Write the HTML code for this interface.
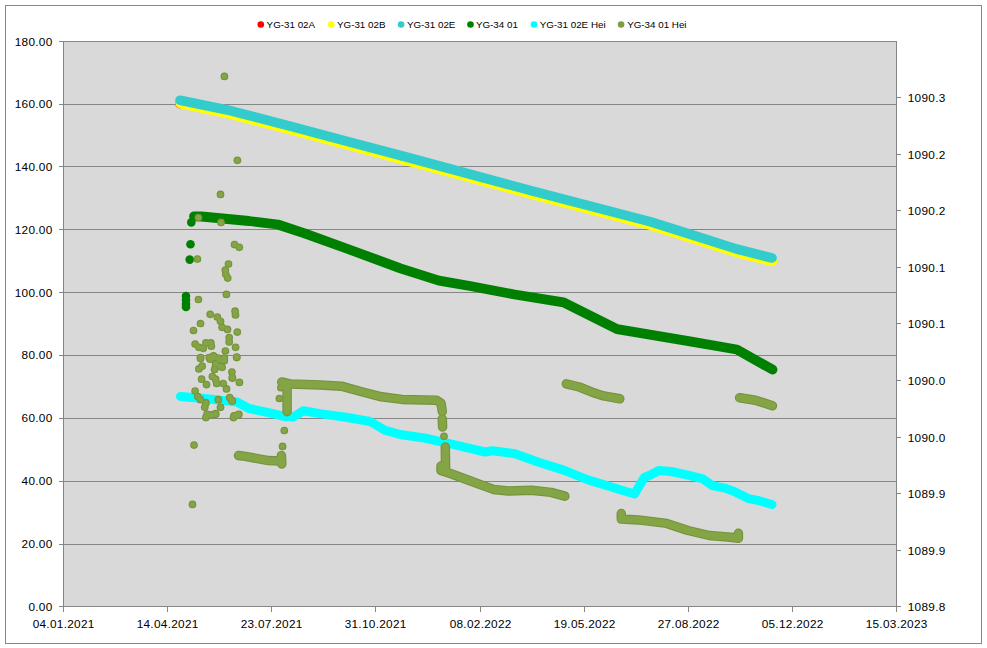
<!DOCTYPE html><html><head><meta charset="utf-8"><title>Chart</title><style>html,body{margin:0;padding:0;background:#fff;}svg{display:block;}text{font-family:"Liberation Sans",Arial,sans-serif;fill:#000;}</style></head><body>
<svg width="987" height="648" viewBox="0 0 987 648">
<rect x="0" y="0" width="987" height="648" fill="#fff"/>
<rect x="5.5" y="5.5" width="976" height="638" fill="none" stroke="#868686" stroke-width="1"/>
<rect x="63" y="41" width="833" height="565" fill="#D9D9D9"/>
<rect x="63" y="41" width="834" height="1" fill="#868686"/>
<rect x="63" y="104" width="834" height="1" fill="#868686"/>
<rect x="63" y="166" width="834" height="1" fill="#868686"/>
<rect x="63" y="229" width="834" height="1" fill="#868686"/>
<rect x="63" y="292" width="834" height="1" fill="#868686"/>
<rect x="63" y="355" width="834" height="1" fill="#868686"/>
<rect x="63" y="418" width="834" height="1" fill="#868686"/>
<rect x="63" y="481" width="834" height="1" fill="#868686"/>
<rect x="63" y="544" width="834" height="1" fill="#868686"/>
<rect x="63" y="606" width="834" height="1" fill="#868686"/>
<rect x="63" y="41" width="1" height="566" fill="#868686"/>
<rect x="896" y="41" width="1" height="566" fill="#868686"/>
<rect x="59" y="41" width="4" height="1" fill="#868686"/>
<rect x="59" y="104" width="4" height="1" fill="#868686"/>
<rect x="59" y="166" width="4" height="1" fill="#868686"/>
<rect x="59" y="229" width="4" height="1" fill="#868686"/>
<rect x="59" y="292" width="4" height="1" fill="#868686"/>
<rect x="59" y="355" width="4" height="1" fill="#868686"/>
<rect x="59" y="418" width="4" height="1" fill="#868686"/>
<rect x="59" y="481" width="4" height="1" fill="#868686"/>
<rect x="59" y="544" width="4" height="1" fill="#868686"/>
<rect x="59" y="606" width="4" height="1" fill="#868686"/>
<rect x="896" y="606" width="5" height="1" fill="#868686"/>
<rect x="896" y="550" width="5" height="1" fill="#868686"/>
<rect x="896" y="493" width="5" height="1" fill="#868686"/>
<rect x="896" y="437" width="5" height="1" fill="#868686"/>
<rect x="896" y="380" width="5" height="1" fill="#868686"/>
<rect x="896" y="323" width="5" height="1" fill="#868686"/>
<rect x="896" y="267" width="5" height="1" fill="#868686"/>
<rect x="896" y="210" width="5" height="1" fill="#868686"/>
<rect x="896" y="154" width="5" height="1" fill="#868686"/>
<rect x="896" y="97" width="5" height="1" fill="#868686"/>
<rect x="63" y="606" width="1" height="6" fill="#868686"/>
<rect x="167" y="606" width="1" height="6" fill="#868686"/>
<rect x="271" y="606" width="1" height="6" fill="#868686"/>
<rect x="375" y="606" width="1" height="6" fill="#868686"/>
<rect x="480" y="606" width="1" height="6" fill="#868686"/>
<rect x="584" y="606" width="1" height="6" fill="#868686"/>
<rect x="688" y="606" width="1" height="6" fill="#868686"/>
<rect x="792" y="606" width="1" height="6" fill="#868686"/>
<rect x="896" y="606" width="1" height="6" fill="#868686"/>
<text x="52.6" y="46" font-size="11.8" letter-spacing="0.3" text-anchor="end">180.00</text>
<text x="52.6" y="108" font-size="11.8" letter-spacing="0.3" text-anchor="end">160.00</text>
<text x="52.6" y="171" font-size="11.8" letter-spacing="0.3" text-anchor="end">140.00</text>
<text x="52.6" y="234" font-size="11.8" letter-spacing="0.3" text-anchor="end">120.00</text>
<text x="52.6" y="297" font-size="11.8" letter-spacing="0.3" text-anchor="end">100.00</text>
<text x="52.6" y="359" font-size="11.8" letter-spacing="0.3" text-anchor="end">80.00</text>
<text x="52.6" y="422" font-size="11.8" letter-spacing="0.3" text-anchor="end">60.00</text>
<text x="52.6" y="485" font-size="11.8" letter-spacing="0.3" text-anchor="end">40.00</text>
<text x="52.6" y="548" font-size="11.8" letter-spacing="0.3" text-anchor="end">20.00</text>
<text x="52.6" y="611" font-size="11.8" letter-spacing="0.3" text-anchor="end">0.00</text>
<text x="907.7" y="611" font-size="11.8" letter-spacing="0.3">1089.8</text>
<text x="907.7" y="555" font-size="11.8" letter-spacing="0.3">1089.9</text>
<text x="907.7" y="498" font-size="11.8" letter-spacing="0.3">1089.9</text>
<text x="907.7" y="442" font-size="11.8" letter-spacing="0.3">1090.0</text>
<text x="907.7" y="385" font-size="11.8" letter-spacing="0.3">1090.0</text>
<text x="907.7" y="328" font-size="11.8" letter-spacing="0.3">1090.1</text>
<text x="907.7" y="272" font-size="11.8" letter-spacing="0.3">1090.1</text>
<text x="907.7" y="215" font-size="11.8" letter-spacing="0.3">1090.2</text>
<text x="907.7" y="159" font-size="11.8" letter-spacing="0.3">1090.2</text>
<text x="907.7" y="102" font-size="11.8" letter-spacing="0.3">1090.3</text>
<text x="63.65" y="628" font-size="11.8" letter-spacing="0.3" text-anchor="middle">04.01.2021</text>
<text x="167.65" y="628" font-size="11.8" letter-spacing="0.3" text-anchor="middle">14.04.2021</text>
<text x="271.65" y="628" font-size="11.8" letter-spacing="0.3" text-anchor="middle">23.07.2021</text>
<text x="375.65" y="628" font-size="11.8" letter-spacing="0.3" text-anchor="middle">31.10.2021</text>
<text x="480.65" y="628" font-size="11.8" letter-spacing="0.3" text-anchor="middle">08.02.2022</text>
<text x="584.65" y="628" font-size="11.8" letter-spacing="0.3" text-anchor="middle">19.05.2022</text>
<text x="688.65" y="628" font-size="11.8" letter-spacing="0.3" text-anchor="middle">27.08.2022</text>
<text x="792.65" y="628" font-size="11.8" letter-spacing="0.3" text-anchor="middle">05.12.2022</text>
<text x="896.65" y="628" font-size="11.8" letter-spacing="0.3" text-anchor="middle">15.03.2023</text>
<circle cx="260.8" cy="24.5" r="3.3" fill="#FF0000"/>
<text x="266.6" y="28" font-size="9.8">YG-31 02A</text>
<circle cx="331.3" cy="24.5" r="3.3" fill="#FFFF00"/>
<text x="337.0" y="28" font-size="9.8">YG-31 02B</text>
<circle cx="401.1" cy="24.5" r="3.3" fill="#33CCCC"/>
<text x="406.9" y="28" font-size="9.8">YG-31 02E</text>
<circle cx="470.5" cy="24.5" r="3.3" fill="#008000"/>
<text x="475.9" y="28" font-size="9.8">YG-34 01</text>
<circle cx="534" cy="24.5" r="3.3" fill="#00FFFF"/>
<text x="539.7" y="28" font-size="9.8">YG-31 02E Hei</text>
<circle cx="621.1" cy="24.5" r="3.3" fill="#7E9E44"/>
<text x="627.2" y="28" font-size="9.8">YG-34 01 Hei</text>
<circle cx="179.8" cy="103.9" r="4.5" fill="#FF0000"/>
<polyline points="180.3,103.6 231.3,114.3 290.3,129.7 350.3,145.7 410.3,161.5 530.3,193.8 600.3,212.2 650.3,225.1 700.3,240.8 736.8,252.5 772.3,261.5" fill="none" stroke="#FFFF00" stroke-width="9.6" stroke-linecap="round" stroke-linejoin="round"/>
<polyline points="180.0,100.3 231.0,110.8 290.0,126.2 350.0,142.2 410.0,158.0 530.0,190.3 600.0,208.7 650.0,221.6 700.0,237.3 736.5,249.0 772.0,258.0" fill="none" stroke="#33CCCC" stroke-width="9.6" stroke-linecap="round" stroke-linejoin="round"/>
<polyline points="194.0,216.3 201.6,216.5 249.0,221.0 260.0,222.3 277.8,224.5 304.6,233.4 349.2,249.5 400.4,268.3 438.9,280.6 470.0,286.0 514.6,294.5 563.6,302.3 617.1,329.1 690.0,341.3 736.8,349.5 772.5,369.6" fill="none" stroke="#008000" stroke-width="9.8" stroke-linecap="round" stroke-linejoin="round"/>
<circle cx="191.3" cy="222.4" r="4.3" fill="#008000"/><circle cx="190.5" cy="244.2" r="4.3" fill="#008000"/><circle cx="189.7" cy="259.6" r="4.3" fill="#008000"/><circle cx="186.0" cy="296.0" r="4.3" fill="#008000"/><circle cx="186.0" cy="300.0" r="4.3" fill="#008000"/><circle cx="186.0" cy="304.0" r="4.3" fill="#008000"/><circle cx="186.0" cy="307.0" r="4.3" fill="#008000"/>
<polyline points="180.5,396.4 206.5,398.8 236.9,402.0 249.0,408.5 267.3,412.3 285.0,416.5 293.5,417.0 303.2,410.8 321.5,413.9 345.8,417.2 370.1,421.5 384.7,430.2 400.0,434.5 424.3,438.0 448.6,443.4 473.0,449.2 485.1,452.0 492.4,450.7 515.0,453.7 539.3,462.5 563.6,470.1 588.0,479.9 612.3,487.2 620.0,489.7 634.6,494.0 639.5,485.4 644.3,477.5 650.4,475.0 658.9,470.5 671.1,471.5 686.9,474.8 702.7,478.8 712.4,485.7 725.8,488.4 734.2,491.5 748.4,498.6 759.0,500.7 772.0,504.5" fill="none" stroke="#00FFFF" stroke-width="9.0" stroke-linecap="round" stroke-linejoin="round"/>
<polyline points="238.5,455.5 245.4,456.4 268.6,460.6 281.0,461.0" fill="none" stroke="#76923C" stroke-width="9.5" stroke-linecap="round" stroke-linejoin="round"/>
<polyline points="281.4,455.5 281.8,464.0" fill="none" stroke="#76923C" stroke-width="9.5" stroke-linecap="round" stroke-linejoin="round"/>
<polyline points="281.7,382.0 290.0,383.9 320.0,384.9 341.3,386.2 362.6,392.0 381.6,396.8 401.8,399.4 436.3,400.2 441.0,403.0 442.3,411.4" fill="none" stroke="#76923C" stroke-width="9.5" stroke-linecap="round" stroke-linejoin="round"/>
<polyline points="442.3,419.0 442.6,427.0" fill="none" stroke="#76923C" stroke-width="9.5" stroke-linecap="round" stroke-linejoin="round"/>
<polyline points="287.1,387.0 287.1,411.7" fill="none" stroke="#76923C" stroke-width="9.5" stroke-linecap="round" stroke-linejoin="round"/>
<polyline points="445.3,447.0 445.6,470.4" fill="none" stroke="#76923C" stroke-width="9.5" stroke-linecap="round" stroke-linejoin="round"/>
<polyline points="441.0,466.0 441.0,470.4 452.4,474.2 470.6,481.0 493.4,489.4 508.6,490.9 531.4,490.2 551.1,492.4 564.8,496.2" fill="none" stroke="#76923C" stroke-width="9.5" stroke-linecap="round" stroke-linejoin="round"/>
<polyline points="566.3,383.8 579.3,387.0 591.5,391.9 603.6,395.9 619.8,398.8" fill="none" stroke="#76923C" stroke-width="9.5" stroke-linecap="round" stroke-linejoin="round"/>
<polyline points="621.3,513.5 621.3,519.1 638.4,519.9 666.7,523.4 688.0,530.5 709.3,535.5 730.6,537.2 738.4,538.3 738.4,533.3" fill="none" stroke="#76923C" stroke-width="9.5" stroke-linecap="round" stroke-linejoin="round"/>
<polyline points="739.6,397.8 755.4,400.2 772.4,405.7" fill="none" stroke="#76923C" stroke-width="9.5" stroke-linecap="round" stroke-linejoin="round"/>
<circle cx="224.4" cy="76.4" r="3.85" fill="#76923C"/><circle cx="237.4" cy="160.3" r="3.85" fill="#76923C"/><circle cx="220.5" cy="194.4" r="3.85" fill="#76923C"/><circle cx="198.4" cy="217.5" r="3.85" fill="#76923C"/><circle cx="221.0" cy="222.4" r="3.85" fill="#76923C"/><circle cx="234.5" cy="244.6" r="3.85" fill="#76923C"/><circle cx="239.3" cy="247.3" r="3.85" fill="#76923C"/><circle cx="197.4" cy="259.1" r="3.85" fill="#76923C"/><circle cx="228.5" cy="264.0" r="3.85" fill="#76923C"/><circle cx="225.3" cy="270.0" r="3.85" fill="#76923C"/><circle cx="225.8" cy="274.3" r="3.85" fill="#76923C"/><circle cx="227.7" cy="278.1" r="3.85" fill="#76923C"/><circle cx="226.4" cy="294.4" r="3.85" fill="#76923C"/><circle cx="198.4" cy="299.5" r="3.85" fill="#76923C"/><circle cx="235.1" cy="311.2" r="3.85" fill="#76923C"/><circle cx="235.5" cy="315.0" r="3.85" fill="#76923C"/><circle cx="210.2" cy="314.3" r="3.85" fill="#76923C"/><circle cx="217.3" cy="317.0" r="3.85" fill="#76923C"/><circle cx="220.5" cy="321.3" r="3.85" fill="#76923C"/><circle cx="222.1" cy="327.3" r="3.85" fill="#76923C"/><circle cx="227.5" cy="329.4" r="3.85" fill="#76923C"/><circle cx="200.5" cy="323.5" r="3.85" fill="#76923C"/><circle cx="193.5" cy="330.5" r="3.85" fill="#76923C"/><circle cx="237.3" cy="332.1" r="3.85" fill="#76923C"/><circle cx="229.2" cy="337.5" r="3.85" fill="#76923C"/><circle cx="229.2" cy="341.9" r="3.85" fill="#76923C"/><circle cx="195.1" cy="344.0" r="3.85" fill="#76923C"/><circle cx="198.9" cy="347.3" r="3.85" fill="#76923C"/><circle cx="203.2" cy="348.3" r="3.85" fill="#76923C"/><circle cx="205.9" cy="342.9" r="3.85" fill="#76923C"/><circle cx="210.8" cy="342.9" r="3.85" fill="#76923C"/><circle cx="211.3" cy="346.2" r="3.85" fill="#76923C"/><circle cx="235.6" cy="347.3" r="3.85" fill="#76923C"/><circle cx="225.4" cy="351.0" r="3.85" fill="#76923C"/><circle cx="200.5" cy="357.5" r="3.85" fill="#76923C"/><circle cx="209.2" cy="357.5" r="3.85" fill="#76923C"/><circle cx="213.5" cy="355.9" r="3.85" fill="#76923C"/><circle cx="217.8" cy="358.0" r="3.85" fill="#76923C"/><circle cx="224.3" cy="358.0" r="3.85" fill="#76923C"/><circle cx="236.7" cy="357.0" r="3.85" fill="#76923C"/><circle cx="200.5" cy="358.6" r="3.85" fill="#76923C"/><circle cx="210.2" cy="359.2" r="3.85" fill="#76923C"/><circle cx="214.6" cy="357.6" r="3.85" fill="#76923C"/><circle cx="220.0" cy="359.7" r="3.85" fill="#76923C"/><circle cx="224.3" cy="360.8" r="3.85" fill="#76923C"/><circle cx="236.7" cy="357.6" r="3.85" fill="#76923C"/><circle cx="198.9" cy="368.9" r="3.85" fill="#76923C"/><circle cx="202.1" cy="366.2" r="3.85" fill="#76923C"/><circle cx="215.6" cy="364.0" r="3.85" fill="#76923C"/><circle cx="220.0" cy="366.2" r="3.85" fill="#76923C"/><circle cx="222.1" cy="367.3" r="3.85" fill="#76923C"/><circle cx="214.6" cy="369.4" r="3.85" fill="#76923C"/><circle cx="231.9" cy="372.1" r="3.85" fill="#76923C"/><circle cx="232.4" cy="378.1" r="3.85" fill="#76923C"/><circle cx="201.6" cy="379.2" r="3.85" fill="#76923C"/><circle cx="206.5" cy="384.6" r="3.85" fill="#76923C"/><circle cx="212.4" cy="376.5" r="3.85" fill="#76923C"/><circle cx="215.6" cy="379.2" r="3.85" fill="#76923C"/><circle cx="216.7" cy="383.5" r="3.85" fill="#76923C"/><circle cx="223.2" cy="383.5" r="3.85" fill="#76923C"/><circle cx="226.5" cy="388.9" r="3.85" fill="#76923C"/><circle cx="239.4" cy="382.4" r="3.85" fill="#76923C"/><circle cx="195.1" cy="391.0" r="3.85" fill="#76923C"/><circle cx="197.8" cy="396.5" r="3.85" fill="#76923C"/><circle cx="200.5" cy="399.7" r="3.85" fill="#76923C"/><circle cx="205.9" cy="402.9" r="3.85" fill="#76923C"/><circle cx="204.8" cy="407.3" r="3.85" fill="#76923C"/><circle cx="218.3" cy="399.7" r="3.85" fill="#76923C"/><circle cx="220.5" cy="407.3" r="3.85" fill="#76923C"/><circle cx="229.7" cy="397.5" r="3.85" fill="#76923C"/><circle cx="231.9" cy="400.8" r="3.85" fill="#76923C"/><circle cx="207.0" cy="414.3" r="3.85" fill="#76923C"/><circle cx="215.6" cy="413.7" r="3.85" fill="#76923C"/><circle cx="234.0" cy="415.9" r="3.85" fill="#76923C"/><circle cx="238.9" cy="414.3" r="3.85" fill="#76923C"/><circle cx="205.9" cy="417.6" r="3.85" fill="#76923C"/><circle cx="211.3" cy="414.9" r="3.85" fill="#76923C"/><circle cx="215.6" cy="414.3" r="3.85" fill="#76923C"/><circle cx="233.5" cy="417.6" r="3.85" fill="#76923C"/><circle cx="238.3" cy="414.9" r="3.85" fill="#76923C"/><circle cx="194.0" cy="445.1" r="3.85" fill="#76923C"/><circle cx="192.5" cy="504.4" r="3.85" fill="#76923C"/><circle cx="232.3" cy="377.7" r="3.85" fill="#76923C"/><circle cx="232.3" cy="400.9" r="3.85" fill="#76923C"/><circle cx="236.2" cy="415.5" r="3.85" fill="#76923C"/><circle cx="279.4" cy="398.5" r="3.85" fill="#76923C"/><circle cx="280.9" cy="387.7" r="3.85" fill="#76923C"/><circle cx="284.3" cy="430.5" r="3.85" fill="#76923C"/><circle cx="444.0" cy="436.3" r="3.85" fill="#76923C"/><circle cx="282.6" cy="446.4" r="3.85" fill="#76923C"/>
<polyline points="238.5,455.5 245.4,456.4 268.6,460.6 281.0,461.0" fill="none" stroke="#84A546" stroke-width="7.3" stroke-linecap="round" stroke-linejoin="round"/>
<polyline points="281.4,455.5 281.8,464.0" fill="none" stroke="#84A546" stroke-width="7.3" stroke-linecap="round" stroke-linejoin="round"/>
<polyline points="281.7,382.0 290.0,383.9 320.0,384.9 341.3,386.2 362.6,392.0 381.6,396.8 401.8,399.4 436.3,400.2 441.0,403.0 442.3,411.4" fill="none" stroke="#84A546" stroke-width="7.3" stroke-linecap="round" stroke-linejoin="round"/>
<polyline points="442.3,419.0 442.6,427.0" fill="none" stroke="#84A546" stroke-width="7.3" stroke-linecap="round" stroke-linejoin="round"/>
<polyline points="287.1,387.0 287.1,411.7" fill="none" stroke="#84A546" stroke-width="7.3" stroke-linecap="round" stroke-linejoin="round"/>
<polyline points="445.3,447.0 445.6,470.4" fill="none" stroke="#84A546" stroke-width="7.3" stroke-linecap="round" stroke-linejoin="round"/>
<polyline points="441.0,466.0 441.0,470.4 452.4,474.2 470.6,481.0 493.4,489.4 508.6,490.9 531.4,490.2 551.1,492.4 564.8,496.2" fill="none" stroke="#84A546" stroke-width="7.3" stroke-linecap="round" stroke-linejoin="round"/>
<polyline points="566.3,383.8 579.3,387.0 591.5,391.9 603.6,395.9 619.8,398.8" fill="none" stroke="#84A546" stroke-width="7.3" stroke-linecap="round" stroke-linejoin="round"/>
<polyline points="621.3,513.5 621.3,519.1 638.4,519.9 666.7,523.4 688.0,530.5 709.3,535.5 730.6,537.2 738.4,538.3 738.4,533.3" fill="none" stroke="#84A546" stroke-width="7.3" stroke-linecap="round" stroke-linejoin="round"/>
<polyline points="739.6,397.8 755.4,400.2 772.4,405.7" fill="none" stroke="#84A546" stroke-width="7.3" stroke-linecap="round" stroke-linejoin="round"/>
<circle cx="224.4" cy="76.4" r="2.75" fill="#84A546"/><circle cx="237.4" cy="160.3" r="2.75" fill="#84A546"/><circle cx="220.5" cy="194.4" r="2.75" fill="#84A546"/><circle cx="198.4" cy="217.5" r="2.75" fill="#84A546"/><circle cx="221.0" cy="222.4" r="2.75" fill="#84A546"/><circle cx="234.5" cy="244.6" r="2.75" fill="#84A546"/><circle cx="239.3" cy="247.3" r="2.75" fill="#84A546"/><circle cx="197.4" cy="259.1" r="2.75" fill="#84A546"/><circle cx="228.5" cy="264.0" r="2.75" fill="#84A546"/><circle cx="225.3" cy="270.0" r="2.75" fill="#84A546"/><circle cx="225.8" cy="274.3" r="2.75" fill="#84A546"/><circle cx="227.7" cy="278.1" r="2.75" fill="#84A546"/><circle cx="226.4" cy="294.4" r="2.75" fill="#84A546"/><circle cx="198.4" cy="299.5" r="2.75" fill="#84A546"/><circle cx="235.1" cy="311.2" r="2.75" fill="#84A546"/><circle cx="235.5" cy="315.0" r="2.75" fill="#84A546"/><circle cx="210.2" cy="314.3" r="2.75" fill="#84A546"/><circle cx="217.3" cy="317.0" r="2.75" fill="#84A546"/><circle cx="220.5" cy="321.3" r="2.75" fill="#84A546"/><circle cx="222.1" cy="327.3" r="2.75" fill="#84A546"/><circle cx="227.5" cy="329.4" r="2.75" fill="#84A546"/><circle cx="200.5" cy="323.5" r="2.75" fill="#84A546"/><circle cx="193.5" cy="330.5" r="2.75" fill="#84A546"/><circle cx="237.3" cy="332.1" r="2.75" fill="#84A546"/><circle cx="229.2" cy="337.5" r="2.75" fill="#84A546"/><circle cx="229.2" cy="341.9" r="2.75" fill="#84A546"/><circle cx="195.1" cy="344.0" r="2.75" fill="#84A546"/><circle cx="198.9" cy="347.3" r="2.75" fill="#84A546"/><circle cx="203.2" cy="348.3" r="2.75" fill="#84A546"/><circle cx="205.9" cy="342.9" r="2.75" fill="#84A546"/><circle cx="210.8" cy="342.9" r="2.75" fill="#84A546"/><circle cx="211.3" cy="346.2" r="2.75" fill="#84A546"/><circle cx="235.6" cy="347.3" r="2.75" fill="#84A546"/><circle cx="225.4" cy="351.0" r="2.75" fill="#84A546"/><circle cx="200.5" cy="357.5" r="2.75" fill="#84A546"/><circle cx="209.2" cy="357.5" r="2.75" fill="#84A546"/><circle cx="213.5" cy="355.9" r="2.75" fill="#84A546"/><circle cx="217.8" cy="358.0" r="2.75" fill="#84A546"/><circle cx="224.3" cy="358.0" r="2.75" fill="#84A546"/><circle cx="236.7" cy="357.0" r="2.75" fill="#84A546"/><circle cx="200.5" cy="358.6" r="2.75" fill="#84A546"/><circle cx="210.2" cy="359.2" r="2.75" fill="#84A546"/><circle cx="214.6" cy="357.6" r="2.75" fill="#84A546"/><circle cx="220.0" cy="359.7" r="2.75" fill="#84A546"/><circle cx="224.3" cy="360.8" r="2.75" fill="#84A546"/><circle cx="236.7" cy="357.6" r="2.75" fill="#84A546"/><circle cx="198.9" cy="368.9" r="2.75" fill="#84A546"/><circle cx="202.1" cy="366.2" r="2.75" fill="#84A546"/><circle cx="215.6" cy="364.0" r="2.75" fill="#84A546"/><circle cx="220.0" cy="366.2" r="2.75" fill="#84A546"/><circle cx="222.1" cy="367.3" r="2.75" fill="#84A546"/><circle cx="214.6" cy="369.4" r="2.75" fill="#84A546"/><circle cx="231.9" cy="372.1" r="2.75" fill="#84A546"/><circle cx="232.4" cy="378.1" r="2.75" fill="#84A546"/><circle cx="201.6" cy="379.2" r="2.75" fill="#84A546"/><circle cx="206.5" cy="384.6" r="2.75" fill="#84A546"/><circle cx="212.4" cy="376.5" r="2.75" fill="#84A546"/><circle cx="215.6" cy="379.2" r="2.75" fill="#84A546"/><circle cx="216.7" cy="383.5" r="2.75" fill="#84A546"/><circle cx="223.2" cy="383.5" r="2.75" fill="#84A546"/><circle cx="226.5" cy="388.9" r="2.75" fill="#84A546"/><circle cx="239.4" cy="382.4" r="2.75" fill="#84A546"/><circle cx="195.1" cy="391.0" r="2.75" fill="#84A546"/><circle cx="197.8" cy="396.5" r="2.75" fill="#84A546"/><circle cx="200.5" cy="399.7" r="2.75" fill="#84A546"/><circle cx="205.9" cy="402.9" r="2.75" fill="#84A546"/><circle cx="204.8" cy="407.3" r="2.75" fill="#84A546"/><circle cx="218.3" cy="399.7" r="2.75" fill="#84A546"/><circle cx="220.5" cy="407.3" r="2.75" fill="#84A546"/><circle cx="229.7" cy="397.5" r="2.75" fill="#84A546"/><circle cx="231.9" cy="400.8" r="2.75" fill="#84A546"/><circle cx="207.0" cy="414.3" r="2.75" fill="#84A546"/><circle cx="215.6" cy="413.7" r="2.75" fill="#84A546"/><circle cx="234.0" cy="415.9" r="2.75" fill="#84A546"/><circle cx="238.9" cy="414.3" r="2.75" fill="#84A546"/><circle cx="205.9" cy="417.6" r="2.75" fill="#84A546"/><circle cx="211.3" cy="414.9" r="2.75" fill="#84A546"/><circle cx="215.6" cy="414.3" r="2.75" fill="#84A546"/><circle cx="233.5" cy="417.6" r="2.75" fill="#84A546"/><circle cx="238.3" cy="414.9" r="2.75" fill="#84A546"/><circle cx="194.0" cy="445.1" r="2.75" fill="#84A546"/><circle cx="192.5" cy="504.4" r="2.75" fill="#84A546"/><circle cx="232.3" cy="377.7" r="2.75" fill="#84A546"/><circle cx="232.3" cy="400.9" r="2.75" fill="#84A546"/><circle cx="236.2" cy="415.5" r="2.75" fill="#84A546"/><circle cx="279.4" cy="398.5" r="2.75" fill="#84A546"/><circle cx="280.9" cy="387.7" r="2.75" fill="#84A546"/><circle cx="284.3" cy="430.5" r="2.75" fill="#84A546"/><circle cx="444.0" cy="436.3" r="2.75" fill="#84A546"/><circle cx="282.6" cy="446.4" r="2.75" fill="#84A546"/>
</svg></body></html>
